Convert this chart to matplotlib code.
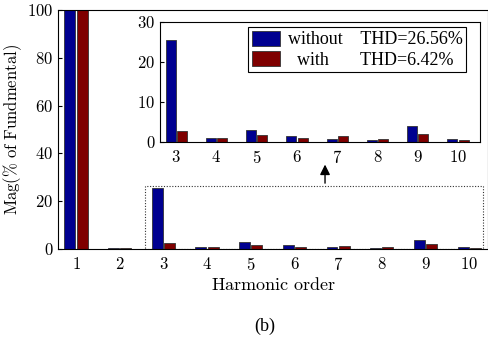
import numpy as np
import matplotlib
matplotlib.use("Agg")
import matplotlib.pyplot as plt
from matplotlib.patches import Rectangle

plt.rcParams["mathtext.fontset"] = "cm"
plt.rcParams["font.family"] = "Liberation Serif"

orders = np.arange(1, 11)
without = [100, 0.5, 25.6, 0.9, 2.9, 1.5, 0.8, 0.5, 3.9, 0.8]
with_f = [100, 0.6, 2.7, 0.9, 1.8, 1.0, 1.4, 0.7, 2.0, 0.4]
labels = ["without    THD=26.56%", "  with       THD=6.42%"]

c_blue = "#000090"
c_red = "#7f0000"
w = 0.25
off = 0.14

fig = plt.figure(figsize=(4.88, 3.44), dpi=100)
ax = fig.add_axes([0.119, 0.276, 0.881, 0.695])
ax.bar(orders - off, without, w, color=c_blue, edgecolor="#333333", linewidth=0.6)
ax.bar(orders + off, with_f, w, color=c_red, edgecolor="#333333", linewidth=0.6)
ax.set_xlim(0.59, 10.43)
ax.set_ylim(0, 100)
ax.set_xticks(orders)
ax.set_xticklabels([f"${o}$" for o in orders])
ax.set_yticks([0, 20, 40, 60, 80, 100])
ax.set_yticklabels([f"${v}$" for v in [0, 20, 40, 60, 80, 100]])
ax.tick_params(direction="in", labelsize=12, length=3)
ax.tick_params(axis="x", length=0, pad=6)
ax.set_xlabel(r"$\mathrm{Harmonic\ order}$", fontsize=13, labelpad=2)
ax.set_ylabel(r"$\mathrm{Mag(\%\ of\ Fundmental)}$", fontsize=12, labelpad=2)

# dotted zoom box and arrow
ax.add_patch(Rectangle((2.58, 0), 7.74, 26.4, fill=False, linestyle=(0, (1, 1.5)),
                       linewidth=0.8, edgecolor="#333333"))
ax.annotate("", xy=(6.70, 36.5), xytext=(6.70, 26.4),
            arrowprops=dict(arrowstyle="-|>", color="black", lw=1.0, mutation_scale=15))

# inset
ins = fig.add_axes([0.328, 0.587, 0.656, 0.349])
ins.bar(orders[2:] - off, without[2:], w, color=c_blue, edgecolor="#333333", linewidth=0.6,
        label=labels[0])
ins.bar(orders[2:] + off, with_f[2:], w, color=c_red, edgecolor="#333333", linewidth=0.6,
        label=labels[1])
ins.set_xlim(2.6, 10.55)
ins.set_ylim(0, 30)
ins.set_xticks(orders[2:])
ins.set_xticklabels([f"${o}$" for o in orders[2:]])
ins.set_yticks([0, 10, 20, 30])
ins.set_yticklabels([f"${v}$" for v in [0, 10, 20, 30]])
ins.tick_params(direction="in", labelsize=12, length=3)
ins.tick_params(axis="x", length=0, pad=6)
leg = ins.legend(loc="upper right", fontsize=13, frameon=True, fancybox=False,
                 edgecolor="black", framealpha=1, handlelength=1.6, handleheight=0.9,
                 borderpad=0.2, labelspacing=0.15, handletextpad=0.4,
                 borderaxespad=0, bbox_to_anchor=(0.956, 0.958))
leg.get_frame().set_linewidth(0.8)

fig.text(0.543, 0.05, "(b)", ha="center", va="center", fontsize=13)

fig.savefig("out.png", dpi=100)
